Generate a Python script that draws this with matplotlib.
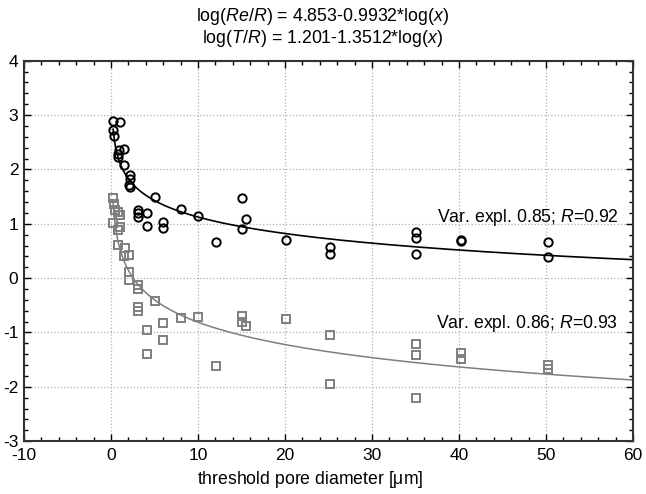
import numpy as np
import matplotlib
matplotlib.use('Agg')
import matplotlib.pyplot as plt
from matplotlib.ticker import MultipleLocator

plt.rcParams['font.family'] = 'Liberation Sans'
plt.rcParams['mathtext.fontset'] = 'custom'
plt.rcParams['mathtext.rm'] = 'Liberation Sans'
plt.rcParams['mathtext.it'] = 'Liberation Sans:italic'
plt.rcParams['axes.unicode_minus'] = False

# Re/R points (circles)
re_x = [0.27, 1.03, 0.27, 0.35, 1.53, 0.95, 0.84, 0.77, 1.53, 2.18, 2.18, 2.1, 2.18,
        5.1, 3.07, 3.07, 3.07, 4.2, 4.2, 6.0, 6.0, 8.0, 10.0, 12.07, 15.1, 15.5, 15.1,
        20.1, 25.2, 25.2, 35.1, 35.1, 35.1, 40.2, 40.2, 50.2, 50.2]
re_y = [2.90, 2.87, 2.73, 2.62, 2.38, 2.35, 2.29, 2.22, 2.09, 1.89, 1.83, 1.71, 1.67,
        1.49, 1.26, 1.19, 1.13, 1.20, 0.96, 1.03, 0.92, 1.28, 1.15, 0.66, 1.48, 1.08, 0.90,
        0.70, 0.58, 0.45, 0.85, 0.74, 0.45, 0.70, 0.68, 0.66, 0.38]

# T/R points (squares)
t_x = [0.27, 0.35, 0.46, 0.84, 1.03, 0.27, 1.03, 0.77, 0.84, 1.6, 2.1, 1.53, 2.1, 2.1,
       3.07, 3.07, 5.1, 3.07, 3.07, 4.2, 6.0, 6.0, 4.2, 8.0, 10.0, 12.07, 15.1, 15.1, 15.5,
       20.1, 25.2, 25.2, 35.1, 35.1, 35.1, 40.2, 40.2, 50.2, 50.2]
t_y = [1.48, 1.37, 1.25, 1.22, 1.16, 1.01, 0.94, 0.89, 0.61, 0.55, 0.42, 0.40, 0.11, -0.04,
       -0.13, -0.20, -0.43, -0.53, -0.61, -0.95, -0.83, -1.13, -1.40, -0.73, -0.71, -1.62,
       -0.70, -0.80, -0.89, -0.75, -1.05, -1.95, -1.22, -1.42, -2.21, -1.37, -1.49, -1.59, -1.67]

# fitted curves y = a + b*ln(x)
re_fit = (2.133, -0.438)
t_fit = (0.557, -0.594)

fig = plt.figure(figsize=(6.46, 4.94), dpi=100)
ax = fig.add_axes([0.037, 0.107, 0.943, 0.770])

xc = np.linspace(0.25, 60, 400)
ax.plot(xc, re_fit[0] + re_fit[1] * np.log(xc), color='black', lw=1.2, zorder=2)
ax.plot(xc, t_fit[0] + t_fit[1] * np.log(xc), color='#7f7f7f', lw=1.1, zorder=2)

ax.plot(re_x, re_y, 'o', mfc='none', mec='black', mew=1.4, ms=6, zorder=3)
ax.plot(t_x, t_y, 's', mfc='none', mec='#7f7f7f', mew=1.4, ms=6, zorder=3)

ax.text(58.4, 1.12, 'Var. expl. 0.85; $\\mathit{R}$=0.92', ha='right', va='center', fontsize=12.7)
ax.text(58.3, -0.83, 'Var. expl. 0.86; $\\mathit{R}$=0.93', ha='right', va='center', fontsize=12.7)

ax.set_xlim(-10, 60)
ax.set_ylim(-3, 4)
ax.xaxis.set_major_locator(MultipleLocator(10))
ax.xaxis.set_minor_locator(MultipleLocator(2))
ax.yaxis.set_major_locator(MultipleLocator(1))
ax.yaxis.set_minor_locator(MultipleLocator(0.2))
ax.tick_params(which='both', direction='in', top=True, right=True, labelsize=12.5)
ax.tick_params(axis='x', pad=5)
ax.tick_params(axis='y', pad=4)
ax.tick_params(which='major', length=5, width=1)
ax.tick_params(which='minor', length=3, width=1)
ax.grid(True, which='major', linestyle=':', color='#b0b0b0', lw=0.9)
for s in ax.spines.values():
    s.set_linewidth(1.5)
    s.set_color('#333333')

ax.set_xlabel('threshold pore diameter [$\\mathrm{\\mu}$m]', fontsize=12.7)
ax.xaxis.set_label_coords(0.47, -0.074)

fig.text(0.5, 0.967, 'log($\\mathit{Re/R}$) = 4.853-0.9932*log($\\mathit{x}$)',
         ha='center', va='center', fontsize=12.8)
fig.text(0.5, 0.922, 'log($\\mathit{T/R}$) = 1.201-1.3512*log($\\mathit{x}$)',
         ha='center', va='center', fontsize=12.8)

fig.savefig('out.png', dpi=100)
